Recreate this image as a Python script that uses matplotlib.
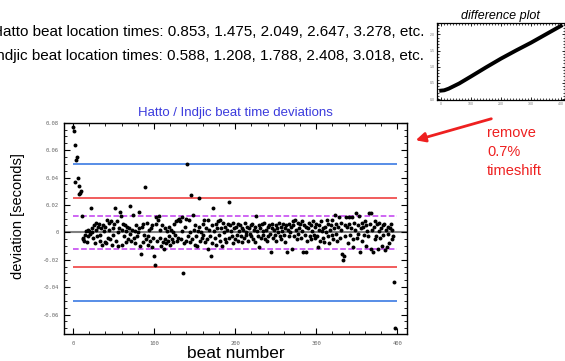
import matplotlib
matplotlib.use("Agg")
import matplotlib.pyplot as plt
from matplotlib.ticker import MultipleLocator
import numpy as np

plt.rcParams['font.family'] = ['Liberation Sans', 'DejaVu Sans']

# deviations in milliseconds, per block of beats
dev_000_099 = [77, 74, 64, 37, 53, 55, 40, 28, 34, 29,
               30, 12, -4, -5, -6, -2, 1, -7, 2, -3,
               1, -1, 18, 3, 0, -4, 5, -8, 2, 7,
               -3, 4, 6, -6, -2, 3, -9, 5, 1, -7,
               4, -8, 9, -4, 2, 7, -5, 8, -9, 3,
               -2, 6, 18, -6, 8, 0, -10, 3, 15, 12,
               2, -9, 6, -3, 5, -7, 1, 4, -5, 3,
               -1, 19, -6, 2, 13, -4, 1, -8, 5, -3,
               0, 3, 15, -10, -16, 4, -7, 6, -2, 33,
               -5, 7, -3, -9, 2, -6, 3, -11, 5, -4]
dev_100_199 = [-17, -24, 6, 11, -6, 9, 12, -4, 2, -10,
               5, -7, -12, 3, -5, -8, 1, -6, 4, -3,
               -9, 2, -5, 0, -7, 6, -2, 8, -6, -4,
               9, 10, 8, -5, 11, 1, -30, -8, 4, -6,
               10, 50, -3, 9, -7, 0, 27, -5, 13, 2,
               -9, 5, -3, -10, 1, 4, 25, -6, 0, -4,
               6, -2, 9, -7, 3, -5, -12, 9, 2, -3,
               -17, 5, -8, 18, 1, -4, 6, -9, 3, 8,
               -2, 9, -6, 3, -10, 7, 0, -5, 4, -7,
               2, 6, 22, -4, 5, 1, -3, 7, -8, 3]
dev_200_299 = [-5, 4, -2, 6, -6, 1, 5, -3, 3, -7,
               2, -4, 7, 0, -2, 4, -6, 3, -1, 5,
               -3, 6, -5, 2, 4, -7, 12, 1, -3, 5,
               -11, 3, -4, 6, -2, 1, 7, -5, 2, -6,
               4, -3, 5, -1, -14, 3, 6, -4, 2, -2,
               5, -6, 3, 0, 7, -3, 4, -5, 1, 6,
               -2, 3, -7, 5, -14, 2, -3, 6, 0, 4,
               -12, 5, 8, -3, 9, 2, -5, 7, -1, 3,
               6, -4, 8, 1, -14, 5, -2, -14, 4, -6,
               3, 7, -3, 5, -5, 1, 8, -2, 4, -4]
dev_300_397 = [6, -3, -11, 2, 5, -6, 8, 1, -4, 3,
               -7, 4, 0, 9, -3, 6, -8, 2, 5, -2,
               9, -5, 3, 13, -1, 6, -6, 4, 11, -4,
               2, 7, -16, -20, -17, 5, -3, 11, 4, -8,
               6, 11, -2, 3, 11, -5, -11, 7, 2, 14,
               -4, 5, -1, 12, -14, 3, 7, -6, 4, -2,
               8, -10, 5, 1, -3, 14, 6, 14, -12, 2,
               -14, 4, -5, 8, -3, 6, -12, 1, 7, -4,
               3, -10, 5, -2, 6, -13, 2, -11, 4, -1,
               -8, 3, 6, -5, 2, -3, -36, -70]

ref_levels = [0.05, 0.025, 0.012]
ref_colors = ['#2a6fe0', '#ee3030', '#c13cf0']

inset_beats = [0, 10, 25, 60, 100, 150, 200, 250, 300, 350, 400]
inset_diff = [0.26, 0.27, 0.32, 0.48, 0.70, 0.98, 1.25, 1.50, 1.74, 2.00, 2.26]

dev_ms = dev_000_099 + dev_100_199 + dev_200_299 + dev_300_397
dev = np.array(dev_ms) / 1000.0
beats = np.arange(len(dev))

fig = plt.figure(figsize=(5.65, 3.61), dpi=100)
ax = fig.add_axes([64/565, 1-334/361, 343/565, (334-122.7)/361])

ax.axhline(0, color='#808080', lw=1.5, zorder=1)
for lev, c in zip(ref_levels, ref_colors):
    ls = '--' if lev == 0.012 else '-'
    for s in (1, -1):
        ax.hlines(s*lev, 0, 400, colors=c, lw=1.1, linestyles=ls, zorder=2)
ax.scatter(beats, dev, s=8, color='black', zorder=3, linewidths=0)

ax.set_xlim(-11, 412)
ax.set_ylim(-0.0742, 0.08)
ax.xaxis.set_major_locator(MultipleLocator(100))
ax.xaxis.set_minor_locator(MultipleLocator(20))
ax.yaxis.set_major_locator(MultipleLocator(0.02))
ax.yaxis.set_minor_locator(MultipleLocator(0.005))
ax.yaxis.set_major_formatter(matplotlib.ticker.FuncFormatter(
    lambda v, p: '0' if abs(v) < 1e-9 else ('%.2f' % v)))
ax.tick_params(which='both', direction='in', top=True, right=True,
               labelsize=4, labelcolor='#666666')
ax.tick_params(axis='x', pad=5)
ax.tick_params(axis='y', pad=4)
ax.tick_params(which='major', length=4, width=0.8)
ax.tick_params(which='minor', length=2, width=0.6)
for lab in ax.get_xticklabels() + ax.get_yticklabels():
    lab.set_family('DejaVu Sans Mono')
for sp in ax.spines.values():
    sp.set_linewidth(1.0)

ax.set_title('Hatto / Indjic beat time deviations', color='#3b3bdd',
             fontsize=9.5, pad=5)
ax.set_xlabel('beat number', fontsize=12.5, labelpad=0)
ax.set_ylabel('deviation [seconds]', fontsize=10.5)
ax.yaxis.set_label_coords(-0.114, (334-216)/211.3)

fig.text(424/565, 1-32/361, 'Hatto beat location times: 0.853, 1.475, 2.049, 2.647, 3.278, etc.',
         ha='right', va='center', fontsize=11)
fig.text(424/565, 1-56/361, 'Indjic beat location times: 0.588, 1.208, 1.788, 2.408, 3.018, etc.',
         ha='right', va='center', fontsize=11)

# inset
ins = fig.add_axes([436.7/565, 1-100/361, (565-436.7)/565, 77.3/361])
ins.plot(inset_beats, inset_diff, color='black', lw=2.8)
ins.set_xlim(-15, 414)
ins.set_ylim(-0.03, 2.36)
ins.xaxis.set_major_locator(MultipleLocator(100))
ins.xaxis.set_minor_locator(MultipleLocator(10))
ins.yaxis.set_major_locator(MultipleLocator(0.5))
ins.yaxis.set_minor_locator(MultipleLocator(0.1))
ins.tick_params(which='both', direction='in', top=True, right=True,
                labelsize=2.5, labelcolor='#777777', pad=1.5)
ins.tick_params(which='major', length=2, width=0.6)
ins.tick_params(which='minor', length=1.2, width=0.5)
for sp in ins.spines.values():
    sp.set_linewidth(0.9)
ins.set_title('difference plot', fontsize=9, style='italic', pad=3)

# arrow and annotation
fig.patches.append(matplotlib.patches.FancyArrowPatch(
    (494/565, 1-118/361), (413/565, 1-141/361), transform=fig.transFigure,
    arrowstyle='-|>', mutation_scale=14, color='#ee2020', lw=2))
fig.text(487/565, 1-126/361, 'remove\n0.7%\ntimeshift', color='#ee2020',
         fontsize=10.5, ha='left', va='top', linespacing=1.45)

fig.savefig('out.png', dpi=100)
